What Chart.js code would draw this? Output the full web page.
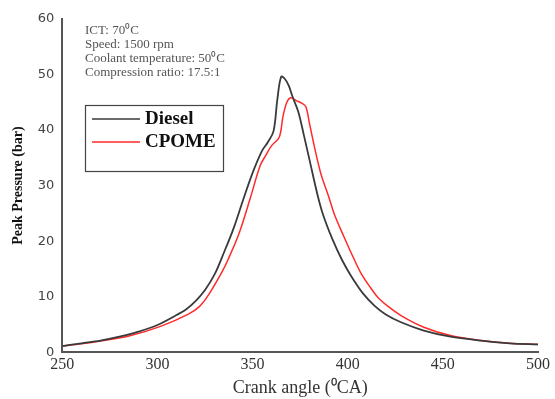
<!DOCTYPE html>
<html><head><meta charset="utf-8">
<script src="https://cdn.jsdelivr.net/npm/chart.js@4"></script>
<style>html,body{margin:0;padding:0;background:#fff}#wrap{width:555px;height:399px;position:relative}</style>
</head><body><div id="wrap"><canvas id="c" width="555" height="399"></canvas></div>
<script>
const dieselAngle = [250,260,270,280,290,300,310,315,320,325,330,335,340,345,350,355,358,361,363,365,367,369,371,374,377,380,384,387,392,397,402,408,414,420,428,440,454,470,485,500];
const dieselPressure = [1.1,1.6,2.1,2.8,3.7,4.9,6.7,7.7,9.2,11.2,14.0,18.0,22.3,27.4,32.3,36.3,37.8,39.8,45.5,49.6,49.2,48.0,46.0,43.3,39.0,34.5,28.5,24.8,20.3,16.6,13.6,10.6,8.4,6.8,5.4,3.9,2.8,2.1,1.6,1.4];
const cpomeAngle = [250,260,270,285,302,316,322,327,334,337,343,349,354,357,360,364,366,368,370,373,376,378,380,383,386,390,393,398,403,407,412,416,421,428,440,454,470,485,500];
const cpomePressure = [1.1,1.5,2.0,2.9,4.7,6.8,8.2,10.4,14.5,16.6,21.5,28.0,33.6,35.5,37.2,38.7,42.5,45.0,45.8,45.3,44.8,44.2,41.0,36.2,32.0,28.0,24.8,20.8,17.0,14.2,11.6,9.8,8.3,6.6,4.5,3.0,2.1,1.6,1.4];
const xTicks = [250,300,350,400,450,500];
const yTicks = [0,10,20,30,40,50,60];
const seriesNames = ['Diesel','CPOME'];
const notes = ['ICT: 70\u2070C','Speed: 1500 rpm','Coolant temperature: 50\u2070C','Compression ratio: 17.5:1'];

const toPts = (xs, ys) => xs.map((x,i)=>({x, y: ys[i]}));

const overlay = {
  id:'overlay',
  afterDraw(chart){
    const ctx = chart.ctx;
    ctx.save();
    ctx.fillStyle = '#555';
    ctx.font = '13px "Liberation Serif"';
    ctx.textBaseline = 'middle';
    notes.forEach((t,i)=>ctx.fillText(t, 85, 31 + i*14));
    ctx.strokeStyle = '#444';
    ctx.lineWidth = 1.2;
    ctx.strokeRect(85.5, 105.5, 138, 66);
    chart.data.datasets.forEach((ds,i)=>{
      const y = 119 + i*23;
      ctx.strokeStyle = ds.borderColor;
      ctx.lineWidth = 1.5;
      ctx.beginPath(); ctx.moveTo(92, y); ctx.lineTo(140, y); ctx.stroke();
      ctx.fillStyle = '#111';
      ctx.font = 'bold 19px "Liberation Serif"';
      ctx.fillText(ds.label, 145, y);
    });
    ctx.restore();
  }
};

new Chart(document.getElementById('c'), {
  type:'line',
  data:{datasets:[
    {label:seriesNames[0], data:toPts(dieselAngle,dieselPressure), borderColor:'#3a3a3a', borderWidth:1.8, pointRadius:0, tension:0.35, fill:false},
    {label:seriesNames[1], data:toPts(cpomeAngle,cpomePressure), borderColor:'#ff2a2a', borderWidth:1.5, pointRadius:0, tension:0.35, fill:false}
  ]},
  options:{
    responsive:false, animation:false, devicePixelRatio:1,
    layout:{padding:{left:8,right:17,top:19,bottom:0}},
    plugins:{legend:{display:false}, tooltip:{enabled:false}},
    scales:{
      x:{type:'linear', min:250, max:500,
        afterBuildTicks(s){ s.ticks = xTicks.map(v=>({value:v})); },
        grid:{display:false, drawTicks:false},
        border:{display:true, color:'#555', width:2},
        ticks:{color:'#333', font:{family:'"Liberation Serif"', size:16}, padding:3, maxRotation:0},
        title:{display:true, text:'Crank angle (\u2070CA)', color:'#333', font:{family:'"Liberation Serif"', size:18}, padding:{top:0,bottom:0}}
      },
      y:{min:0, max:60,
        afterBuildTicks(s){ s.ticks = yTicks.map(v=>({value:v})); },
        grid:{display:false, drawTicks:false},
        border:{display:true, color:'#555', width:2},
        ticks:{color:'#444', font:{family:'"DejaVu Sans"', size:13}, padding:8},
        title:{display:true, text:'Peak Pressure (bar)', color:'#111', font:{family:'"Liberation Serif"', size:14, weight:'bold'}, padding:{top:2,bottom:3}}
      }
    }
  },
  plugins:[overlay]
});
</script></body></html>
